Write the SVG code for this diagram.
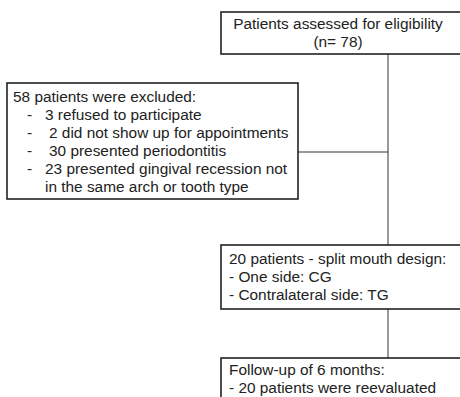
<svg xmlns="http://www.w3.org/2000/svg" width="460" height="397" viewBox="0 0 460 397">
<style>
.box{fill:#fff;stroke:#222;stroke-width:1.6}
.conn{stroke:#333;stroke-width:1;fill:none}
text{font-family:"Liberation Sans",Arial,sans-serif;font-size:15.4px;fill:#222}
</style>
<rect width="460" height="397" fill="#fff"/>
<g id="connectors">
<line class="conn" x1="388" y1="54" x2="388" y2="245"/>
<line class="conn" x1="298" y1="152" x2="388" y2="152"/>
<line class="conn" x1="388" y1="309" x2="388" y2="358"/>
</g>
<g id="assessed">
<rect class="box" x="221" y="12" width="245" height="42"/>
<text x="338" y="29" text-anchor="middle">Patients assessed for eligibility</text>
<text x="338" y="47" text-anchor="middle">(n= 78)</text>
</g>
<g id="excluded">
<rect class="box" x="7" y="83" width="291" height="116"/>
<text x="13" y="102">58 patients were excluded:</text>
<text x="27" y="120">-</text><text x="45" y="120">3 refused to participate</text>
<text x="27" y="138">-</text><text x="49" y="138">2 did not show up for appointments</text>
<text x="27" y="156">-</text><text x="49" y="156">30 presented periodontitis</text>
<text x="27" y="174">-</text><text x="45" y="174">23 presented gingival recession not</text>
<text x="45" y="192">in the same arch or tooth type</text>
</g>
<g id="split">
<rect class="box" x="221" y="245" width="245" height="64"/>
<text x="229" y="264">20 patients - split mouth design:</text>
<text x="229" y="282">- One side: CG</text>
<text x="229" y="300">- Contralateral side: TG</text>
</g>
<g id="followup">
<rect class="box" x="221" y="358" width="245" height="50"/>
<text x="229" y="375">Follow-up of 6 months:</text>
<text x="229" y="393">- 20 patients were reevaluated</text>
</g>
</svg>
